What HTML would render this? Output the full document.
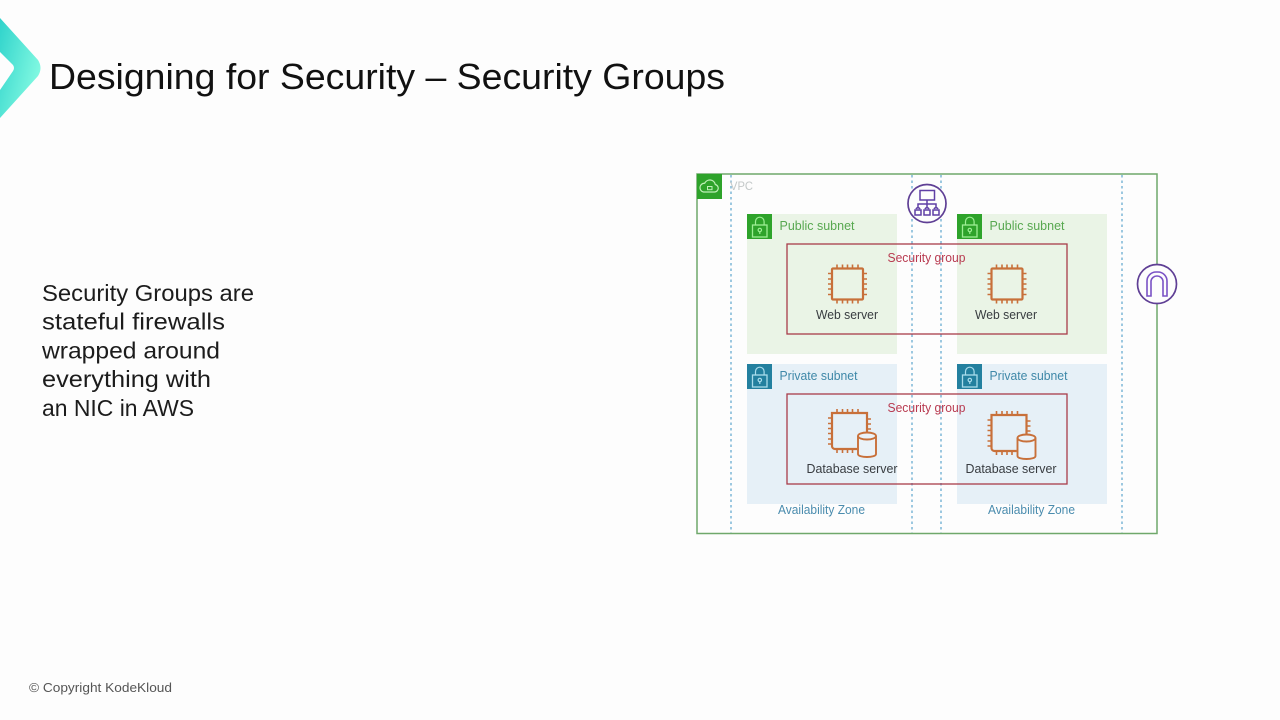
<!DOCTYPE html>
<html lang="en">
<head>
<meta charset="utf-8">
<title>Designing for Security – Security Groups</title>
<style>
html,body{margin:0;padding:0;width:1280px;height:720px;overflow:hidden;background:#fdfdfd}
svg{display:block;filter:blur(.35px)}
text{font-family:"Liberation Sans",sans-serif}
</style>
</head>
<body>
<svg width="1280" height="720" viewBox="0 0 1280 720" xmlns="http://www.w3.org/2000/svg">
<defs>
<linearGradient id="lg" x1="0" y1="0" x2="1" y2="0.6">
<stop offset="0" stop-color="#2fd3cb"/><stop offset="1" stop-color="#84fae2"/>
</linearGradient>
<g id="lock" fill="none" stroke="#9dee94" stroke-width="1.2">
<rect x="5.500" y="11" width="14.500" height="12" stroke-width="1.300"/>
<path d="M8.500 11V7.500a4.300 4.300 0 0 1 8.600 0V11"/>
<circle cx="12.800" cy="16" r="1.700"/><path d="M12.800 17.500v2.500"/>
</g>
<g id="lockb" fill="none" stroke="#a9dcec" stroke-width="1.2">
<rect x="5.500" y="11" width="14.500" height="12" stroke-width="1.300"/>
<path d="M8.500 11V7.500a4.300 4.300 0 0 1 8.600 0V11"/>
<circle cx="12.800" cy="16" r="1.700"/><path d="M12.800 17.500v2.500"/>
</g>
<g id="chip" fill="none" stroke="#c8703a" stroke-width="1.600">
<rect x="5" y="5" width="31" height="31" rx="1" stroke-width="2.200"/>
<path d="M10 1v4M15.500 1v4M20.500 1v4M25.500 1v4M31 1v4M10 36v4M15.500 36v4M20.500 36v4M25.500 36v4M31 36v4M1 10h4M1 15.500h4M1 20.500h4M1 25.500h4M1 31h4M36 10h4M36 15.500h4M36 20.500h4M36 25.500h4M36 31h4"/>
</g>
<g id="db" fill="none" stroke="#c8703a" stroke-width="1.600">
<path d="M30 40H8a3 3 0 0 1-3-3V4h35v20" stroke-width="2.200"/>
<path d="M10 0v4M15.500 0v4M20.500 0v4M25.500 0v4M31 0v4M10 40v4M15.500 40v4M20.500 40v4M25.500 40v4M1 9h4M1 14.500h4M1 19.500h4M1 24.500h4M1 30h4M1 35h4M40 10h4M40 15h4M40 20h4"/>
<path d="M31 27v18c0 4 18 4 18 0V27" fill="#eaf2f8" stroke-width="1.900"/>
<ellipse cx="40" cy="27" rx="9" ry="3.500" fill="#eaf2f8" stroke-width="1.900"/>
</g>
</defs>

<path d="M0 18 L38 60 Q43 68 38 76 L0 118 V90 L13 71 Q15 68 13 65 L0 52Z" fill="url(#lg)"/>
<text x="49" y="89" font-size="36" fill="#111" textLength="676" lengthAdjust="spacingAndGlyphs">Designing for Security – Security Groups</text>

<g font-size="23" fill="#1c1c1c">
<text x="42" y="301" textLength="212" lengthAdjust="spacingAndGlyphs">Security Groups are</text>
<text x="42" y="329.500" textLength="183" lengthAdjust="spacingAndGlyphs">stateful firewalls</text>
<text x="42" y="358.500" textLength="178" lengthAdjust="spacingAndGlyphs">wrapped around</text>
<text x="42" y="387" textLength="169" lengthAdjust="spacingAndGlyphs">everything with</text>
<text x="42" y="416" textLength="152" lengthAdjust="spacingAndGlyphs">an NIC in AWS</text>
</g>
<text x="29" y="692" font-size="12.500" fill="#555" textLength="143" lengthAdjust="spacingAndGlyphs">© Copyright KodeKloud</text>

<g>
<rect x="747" y="214" width="150" height="140" fill="#eaf4e6"/>
<rect x="957" y="214" width="150" height="140" fill="#eaf4e6"/>
<rect x="747" y="364" width="150" height="140" fill="#e6f0f7"/>
<rect x="957" y="364" width="150" height="140" fill="#e6f0f7"/>

<g stroke="#7db6d6" stroke-width="1.500" stroke-dasharray="2.500 3" fill="none">
<path d="M731 175V533M912 175V533M941 175V533M1122 175V533"/>
</g>

<rect x="697" y="174" width="460" height="359.500" fill="none" stroke="#6fa86b" stroke-width="1.500"/>

<rect x="697" y="174" width="25" height="25" fill="#2ea32b"/>
<path d="M703.500 192h11a3.800 3.800 0 0 0 .8-7.500 5.600 5.600 0 0 0-10.600-1.200 4.400 4.400 0 0 0-1.200 8.700z" fill="none" stroke="#bff0b8" stroke-width="1.200"/>
<rect x="707.500" y="186.500" width="4.500" height="3.200" fill="none" stroke="#bff0b8" stroke-width="1"/>
<text x="730" y="190" font-size="12" fill="#c3c8c8" textLength="23" lengthAdjust="spacingAndGlyphs">VPC</text>

<rect x="787" y="244" width="280" height="90" fill="none" stroke="#a83c4a" stroke-width="1.300"/>
<rect x="787" y="394" width="280" height="90" fill="none" stroke="#a83c4a" stroke-width="1.300"/>

<rect x="747" y="214" width="25" height="25" fill="#2ea32b"/><use href="#lock" x="747" y="214"/>
<rect x="957" y="214" width="25" height="25" fill="#2ea32b"/><use href="#lock" x="957" y="214"/>
<rect x="747" y="364" width="25" height="25" fill="#23809f"/><use href="#lockb" x="747" y="364"/>
<rect x="957" y="364" width="25" height="25" fill="#23809f"/><use href="#lockb" x="957" y="364"/>

<g font-size="12.500" fill="#58a850">
<text x="779.500" y="230" textLength="75" lengthAdjust="spacingAndGlyphs">Public subnet</text>
<text x="989.500" y="230" textLength="75" lengthAdjust="spacingAndGlyphs">Public subnet</text>
</g>
<g font-size="12.500" fill="#3f88a8">
<text x="779.500" y="380" textLength="78" lengthAdjust="spacingAndGlyphs">Private subnet</text>
<text x="989.500" y="380" textLength="78" lengthAdjust="spacingAndGlyphs">Private subnet</text>
<text x="778" y="514" textLength="87" lengthAdjust="spacingAndGlyphs" fill="#4a8cae">Availability Zone</text>
<text x="988" y="514" textLength="87" lengthAdjust="spacingAndGlyphs" fill="#4a8cae">Availability Zone</text>
</g>
<g font-size="12.500" fill="#b83a50">
<text x="887.500" y="262" textLength="78" lengthAdjust="spacingAndGlyphs">Security group</text>
<text x="887.500" y="412" textLength="78" lengthAdjust="spacingAndGlyphs">Security group</text>
</g>

<use href="#chip" x="827" y="263.500"/>
<use href="#chip" x="986.500" y="263.500"/>
<use href="#db" x="827" y="409"/>
<use href="#db" x="986.500" y="411"/>

<g font-size="12.500" fill="#383c40">
<text x="816" y="319" textLength="62" lengthAdjust="spacingAndGlyphs">Web server</text>
<text x="975" y="319" textLength="62" lengthAdjust="spacingAndGlyphs">Web server</text>
<text x="806.500" y="473" textLength="91" lengthAdjust="spacingAndGlyphs">Database server</text>
<text x="965.500" y="473" textLength="91" lengthAdjust="spacingAndGlyphs">Database server</text>
</g>

<circle cx="927" cy="203.500" r="19" fill="#fdfdfd" stroke="#5f3f95" stroke-width="1.700"/>
<g fill="none" stroke="#5f3fa5" stroke-width="1.500">
<rect x="920" y="190.500" width="14.500" height="9.500"/>
<path d="M927 200v4M918 208v-4h18v4M927 204v4"/>
<path d="M916 209a2.200 2.200 0 0 1 4 0M925 209a2.200 2.200 0 0 1 4 0M934 209a2.200 2.200 0 0 1 4 0"/>
<rect x="915" y="210" width="6" height="5"/><rect x="924" y="210" width="6" height="5"/><rect x="933" y="210" width="6" height="5"/>
</g>

<circle cx="1157" cy="284" r="19.500" fill="#fdfdfd" stroke="#5f3f95" stroke-width="1.700"/>
<g fill="none" stroke="#7a52c5" stroke-width="1.600">
<path d="M1147 296V281a9 9 0 0 1 9-9h2a9 9 0 0 1 9 9v15h-4V281a6 6 0 0 0-6-5a6 6 0 0 0-6 5v15z"/>
</g>
</g>
</svg>
</body>
</html>
